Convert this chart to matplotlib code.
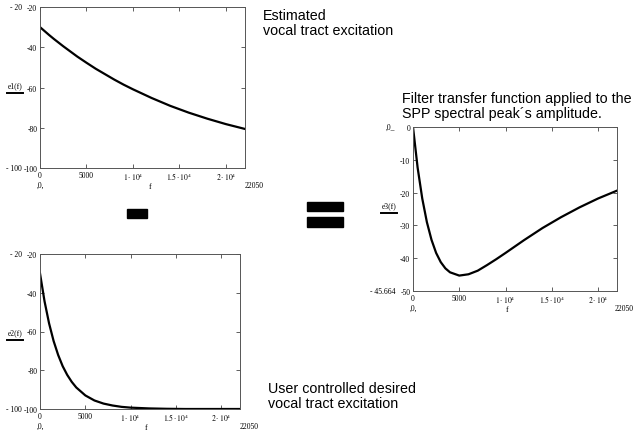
import matplotlib
matplotlib.use("Agg")
import matplotlib.pyplot as plt
from matplotlib.patches import Rectangle
from matplotlib.lines import Line2D

W, H = 634, 431

# frequency grid (Hz) and the three curves (dB)
freq = [0, 500, 1000, 1500, 2000, 2500, 3000, 3500, 4000, 5000, 6000, 7000,
        8000, 9000, 10000, 12000, 14000, 16000, 18000, 20000, 22050]
e1 = [-30.0, -32.0, -34.0, -35.9, -37.7, -39.5, -41.2, -42.9, -44.6, -47.7, -50.7,
      -53.4, -56.1, -58.6, -60.9, -65.2, -69.1, -72.5, -75.5, -78.2, -80.6]
e2 = [-30.0, -44.4, -55.8, -64.9, -72.1, -77.9, -82.4, -86.0, -88.9, -93.0, -95.6,
      -97.2, -98.2, -98.9, -99.3, -99.7, -99.9, -100.0, -100.0, -100.0, -100.0]
e3 = [0.0, -12.4, -21.8, -29.0, -34.4, -38.4, -41.2, -43.1, -44.3, -45.3, -44.9,
      -43.8, -42.1, -40.3, -38.4, -34.5, -30.8, -27.5, -24.5, -21.8, -19.4]

xticks = [0, 5000, 10000, 15000, 20000]
xlabels = ["0", "5000", r"$1\cdot10^{4}$", r"$1.5\cdot10^{4}$", r"$2\cdot10^{4}$"]
ticks_e12 = [-20, -40, -60, -80, -100]
ticks_e3 = [0, -10, -20, -30, -40, -50]

plt.rcParams["font.family"] = "Liberation Serif"
plt.rcParams["mathtext.fontset"] = "stix"
small = 5.5

fig = plt.figure(figsize=(W / 100, H / 100), dpi=100)


def box(x0, y0, x1, y1):
    return [x0 / W, 1 - y1 / H, (x1 - x0) / W, (y1 - y0) / H]


def ftext(x, y, s, **kw):
    kw.setdefault("fontsize", small)
    fig.text(x / W, 1 - y / H, s, **kw)


def panel(rect, y, ylim, yticks, name_xy, name, f_x, lim_labels):
    ax = fig.add_axes(box(*rect))
    ax.plot(freq, y, color="black", lw=1.6)
    ax.set_xlim(0, 22050)
    ax.set_ylim(*ylim)
    ax.set_xticks(xticks)
    ax.set_xticklabels(xlabels, fontsize=small)
    ax.set_yticks(yticks)
    ax.set_yticklabels([str(t) for t in yticks], fontsize=small)
    ax.tick_params(direction="in", length=3, width=0.6, top=True, right=True,
                   pad=2, color="#444444")
    for s in ax.spines.values():
        s.set_linewidth(0.7)
        s.set_color("#555555")
    # Mathcad style function name with underline
    nx, ny = name_xy
    ftext(nx, ny, name, ha="center", va="bottom")
    fig.add_artist(Line2D([(nx - 8) / W, (nx + 8) / W], [1 - (ny + 4) / H] * 2,
                          color="black", lw=1.4))
    # limit labels
    x0, y0, x1, y1 = rect
    top_lbl, bot_lbl = lim_labels
    ftext(x0 - 18, y0, top_lbl, ha="right", va="center")
    ftext(x0 - 18, y1, bot_lbl, ha="right", va="center")
    ftext(x0 + 1, y1 + 17, ",0,", ha="center", va="center")
    ftext(f_x, y1 + 18, "f", ha="center", va="center")
    ftext(min(x1, W - 19), y1 + 17, "22050", ha="left", va="center")
    return ax


panel((40, 8, 245, 169), e1, (-100, -20), ticks_e12, (15, 90), "e1(f)", 150, ("- 20", "- 100"))
panel((40, 255, 240, 410), e2, (-100, -20), ticks_e12, (15, 337), "e2(f)", 146, ("- 20", "- 100"))
panel((413, 128, 617, 292), e3, (-50, 0), ticks_e3, (389, 210), "e3(f)", 507, (",0_", "- 45.664"))

# operator symbols
fig.add_artist(Rectangle((127 / W, 1 - 219 / H), 20 / W, 9 / H, color="black"))
fig.add_artist(Rectangle((307 / W, 1 - 212 / H), 36 / W, 9 / H, color="black"))
fig.add_artist(Rectangle((307 / W, 1 - 228 / H), 36 / W, 10 / H, color="black"))

big = dict(fontsize=10.3, family="Liberation Sans", va="top", linespacing=1.1)
ftext(263, 9, "Estimated\nvocal tract excitation", **big)
ftext(402, 92, "Filter transfer function applied to the\nSPP spectral peak\u00b4s amplitude.", **big)
ftext(268, 382, "User controlled desired\nvocal tract excitation", **big)

fig.savefig("out.png", dpi=100)
